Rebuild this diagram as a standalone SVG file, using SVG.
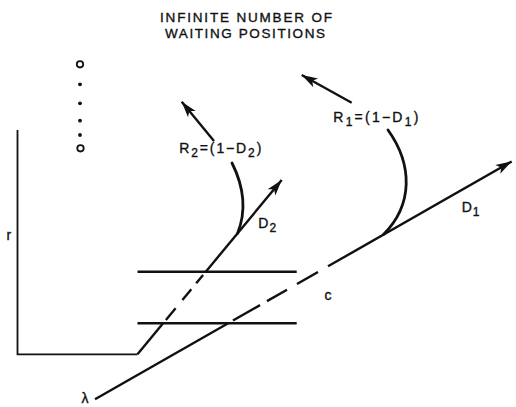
<svg xmlns="http://www.w3.org/2000/svg" width="516" height="407" viewBox="0 0 516 407">
<defs>
<style>
.t{font-family:"Liberation Sans",Arial,sans-serif;font-size:14px;fill:#111;stroke:#111;stroke-width:0.35}
.s{font-size:12px}
.ln{stroke:#111;stroke-width:2.4;fill:none;stroke-linecap:butt}
.thin{stroke:#111;stroke-width:1.8;fill:none}
.cv{stroke:#111;stroke-width:2.8;fill:none;stroke-linecap:round}
</style>
<marker id="ah" markerUnits="userSpaceOnUse" markerWidth="24" markerHeight="14" viewBox="-17 -7 18 14" refX="0" refY="0" orient="auto">
<path d="M0,0 L-16,-5 L-12,0 L-16,5 Z" fill="#111"/>
</marker>
</defs>
<rect width="516" height="407" fill="#fff"/>
<g id="title">
<text class="t" x="160" y="21.7" textLength="172" lengthAdjust="spacing" style="font-size:13.5px">INFINITE NUMBER OF</text>
<text class="t" x="165" y="38.3" textLength="160" lengthAdjust="spacing" style="font-size:13.5px">WAITING POSITIONS</text>
</g>
<g id="queue">
<circle cx="80" cy="64.3" r="3.2" fill="none" stroke="#111" stroke-width="1.8"/>
<circle cx="80" cy="84.3" r="1.9" fill="#111"/>
<circle cx="80" cy="103.3" r="1.9" fill="#111"/>
<circle cx="80" cy="120.7" r="1.9" fill="#111"/>
<circle cx="80" cy="135" r="1.9" fill="#111"/>
<circle cx="80.5" cy="148.3" r="3.2" fill="none" stroke="#111" stroke-width="1.8"/>
</g>
<g id="server2">
<line class="ln" x1="137.5" y1="271.7" x2="296.7" y2="271.7"/>
</g>
<g id="server1">
<line class="ln" x1="137.5" y1="323.3" x2="296.7" y2="323.3"/>
</g>
<g id="connectors">
<polyline class="thin" points="17.5,130 17.5,354.3 137.5,354.3"/>
<line class="ln" x1="137.5" y1="354.3" x2="163.1" y2="323.3"/>
<line class="ln" x1="165.9" y1="320" x2="175.6" y2="308.3"/>
<line class="ln" x1="182.4" y1="300" x2="191.3" y2="289.3"/>
<line class="ln" x1="196.2" y1="283.3" x2="203.1" y2="275"/>
<line class="ln" x1="205.8" y1="271.7" x2="281.7" y2="180" marker-end="url(#ah)"/>
<path class="cv" d="M232,163 C243,185 247,210 237.5,233.5"/>
<line class="ln" x1="214" y1="141" x2="181.7" y2="101.7" marker-end="url(#ah)"/>
<line class="ln" x1="95" y1="399.3" x2="228.2" y2="323.3"/>
<line class="ln" x1="233" y1="320.5" x2="260" y2="305.1"/>
<line class="ln" x1="267" y1="301.1" x2="287" y2="289.7"/>
<line class="ln" x1="297" y1="284" x2="318" y2="272"/>
<line class="ln" x1="328" y1="266.3" x2="511.7" y2="161.5" marker-end="url(#ah)"/>
<path class="cv" d="M388,130 C413,165 413,205 383.5,234.5"/>
<line class="ln" x1="351.7" y1="102.7" x2="301.7" y2="75" marker-end="url(#ah)"/>
</g>
<g id="labels">
<text class="t" x="179.3" y="153.3" textLength="82" lengthAdjust="spacing">R<tspan class="s" dy="4">2</tspan><tspan dy="-4">=(1−D</tspan><tspan class="s" dy="4">2</tspan><tspan dy="-4">)</tspan></text>
<text class="t" x="333.3" y="121.7" textLength="85" lengthAdjust="spacing">R<tspan class="s" dy="4">1</tspan><tspan dy="-4">=(1−D</tspan><tspan class="s" dy="4">1</tspan><tspan dy="-4">)</tspan></text>
<text class="t" x="258.3" y="228.3">D<tspan class="s" dx="1" dy="4">2</tspan></text>
<text class="t" x="461.7" y="211.7">D<tspan class="s" dx="1" dy="4">1</tspan></text>
<text class="t" x="324.5" y="300">c</text>
<text class="t" x="6.5" y="240">r</text>
<text class="t" x="81.5" y="403">λ</text>
</g>
</svg>
